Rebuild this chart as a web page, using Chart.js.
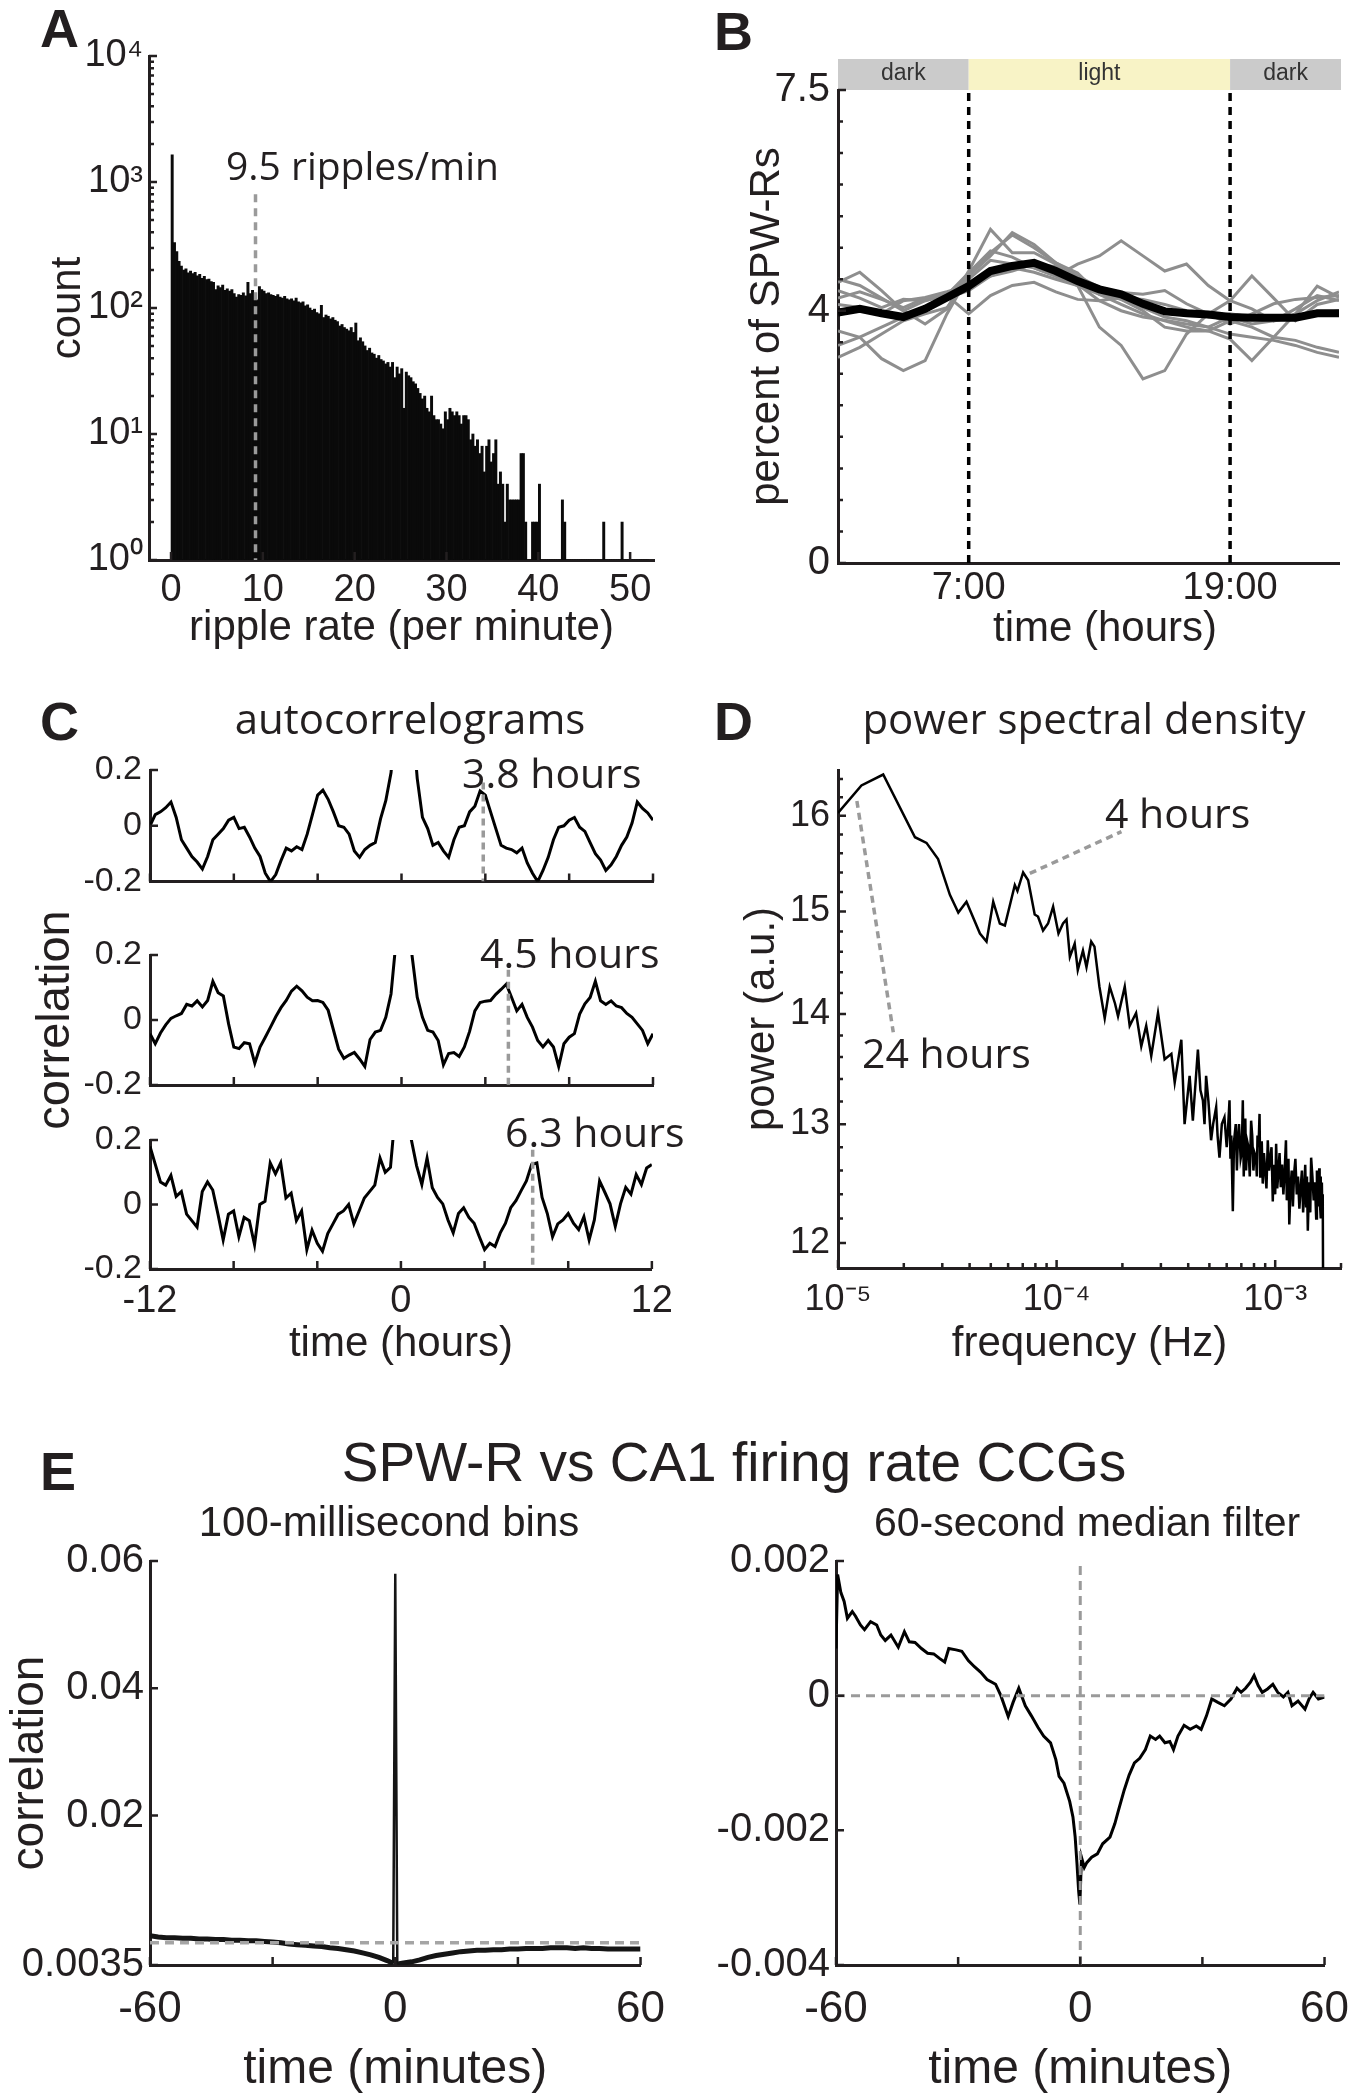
<!DOCTYPE html>
<html>
<head>
<meta charset="utf-8">
<script src="https://cdn.jsdelivr.net/npm/chart.js@4.4.1/dist/chart.umd.min.js"></script>
<style>
body { margin: 0; background: #fff; }
#fig { position: relative; width: 1367px; height: 2100px; overflow: hidden; background: #fff; }
#fig canvas { position: absolute; }
.t { position: absolute; white-space: nowrap; color: #231f20; }
</style>
</head>
<body>
<div id="fig">
<canvas id="chartA"></canvas>
<canvas id="chartB"></canvas>
<canvas id="chartC1"></canvas>
<canvas id="chartC2"></canvas>
<canvas id="chartC3"></canvas>
<canvas id="chartD"></canvas>
<canvas id="chartE1"></canvas>
<canvas id="chartE2"></canvas>
</div>
<script>
// ---- A: ripple-rate histogram (0.25 bins) ----
var histBinWidth = 0.25;
var histCounts = [
  1640, 330, 280, 235,  215, 200, 205, 190,  196, 188, 192, 180,  185, 172, 178, 168,
  170, 162, 160, 140,  150, 145, 152, 138,  142, 136, 140, 130,  122, 128, 126, 132,
  125, 160, 130, 138,  128, 116, 148, 140,  136, 130, 132, 128,  126, 124, 128, 122,
  120, 124, 118, 116,  118, 114, 120, 112,  110, 112, 104, 106,  100, 96, 98, 92,
  90, 105, 84, 88,  86, 82, 84, 80,  78, 72, 74, 70,  68, 66, 70, 64,
  76, 55, 58, 54,  50, 46, 48, 44,  43, 40, 42, 39,  38, 36, 37, 34,
  37, 28, 34, 30,  33, 16, 31, 29,  28, 26, 25, 23,  21, 19, 20, 16,
  15, 20, 14, 13,  13, 12, 11, 15,  13, 16, 15, 14,  15, 14, 12, 14,
  14, 13, 9, 10,  8, 9, 7, 8,  5, 8, 9, 6,  7, 9, 4, 5,
  4, 2, 4, 3,  3, 3, 3, 3,  7, 7, 2, 0,  0, 2, 2, 2,
  4, 0, 0, 0,  0, 0, 0, 0,  0, 0, 3, 2,  0, 0, 0, 0,
  0, 0, 0, 0,  0, 0, 0, 0,  0, 0, 0, 0,  2, 0, 0, 0,
  0, 0, 0, 0,  2, 0, 0, 0,  0, 0, 0, 0,  0, 0, 0, 0
];
var rateTicks = [0, 10, 20, 30, 40, 50];
var histTickValues = [1, 10, 100, 1000, 10000];
var histTickLabels = ['10\u2070', '10\u00b9', '10\u00b2', '10\u00b3', '10\u2074'];
var histMinorTicks = [2, 3, 4, 5, 6, 7, 8, 9, 20, 30, 40, 50, 60, 70, 80, 90,
  200, 300, 400, 500, 600, 700, 800, 900, 2000, 3000, 4000, 5000, 6000, 7000, 8000, 9000];
var medianRate = 9.2;
var medianMarkTop = 800;

// ---- B: percent of SPW-Rs per hour ----
var hours = [1, 2, 3, 4, 5, 6, 7, 8, 9, 10, 11, 12, 13, 14, 15, 16, 17, 18, 19, 20, 21, 22, 23, 24];
var spwrMean = [3.97, 4.03, 3.96, 3.90, 4.03, 4.21, 4.39, 4.63, 4.71, 4.76, 4.63, 4.47,
  4.34, 4.26, 4.11, 3.99, 3.96, 3.94, 3.90, 3.89, 3.89, 3.89, 3.96, 3.96];
var spwrAnimals = [
  [4.45, 4.61, 4.32, 4.00, 3.79, 4.03, 4.63, 5.29, 4.92, 4.92, 4.74, 4.50, 4.32, 4.18, 4.05, 3.90, 3.84, 3.74, 3.90, 3.79, 3.84, 4.03, 4.24, 4.16],
  [3.68, 3.58, 3.24, 3.05, 3.21, 3.95, 4.55, 4.87, 5.24, 5.05, 4.76, 4.55, 4.37, 4.29, 4.26, 4.32, 4.11, 3.95, 3.79, 3.95, 4.11, 4.18, 4.21, 4.24],
  [4.20, 4.30, 4.18, 4.05, 4.20, 4.25, 4.60, 4.95, 4.85, 4.68, 4.55, 4.74, 4.87, 5.11, 4.87, 4.63, 4.74, 4.40, 4.16, 4.55, 4.20, 3.84, 4.10, 4.18],
  [4.10, 4.05, 3.95, 4.16, 4.21, 4.30, 4.40, 4.55, 4.68, 4.61, 4.50, 4.40, 3.74, 3.45, 2.92, 3.05, 3.63, 3.95, 4.16, 4.03, 3.84, 3.90, 3.95, 4.00],
  [3.45, 3.58, 3.74, 3.90, 4.05, 4.20, 4.32, 4.55, 4.63, 4.74, 4.70, 4.42, 4.16, 4.00, 3.90, 3.85, 3.79, 3.74, 3.63, 3.58, 3.53, 3.45, 3.34, 3.26],
  [3.26, 3.42, 3.63, 3.84, 3.95, 4.05, 4.50, 4.80, 4.74, 4.68, 4.55, 4.40, 4.26, 4.10, 3.95, 3.84, 3.74, 3.68, 3.84, 3.74, 3.58, 3.53, 3.42, 3.34],
  [4.32, 4.20, 4.05, 4.18, 4.16, 4.26, 4.55, 4.92, 5.20, 5.00, 4.76, 4.60, 4.26, 4.18, 4.00, 3.74, 3.68, 3.68, 3.55, 3.21, 3.58, 3.95, 4.39, 4.21],
  [4.50, 4.40, 4.20, 4.00, 4.16, 4.24, 3.95, 4.24, 4.40, 4.45, 4.30, 4.18, 4.16, 4.21, 4.18, 4.10, 4.00, 3.90, 3.95, 3.90, 3.84, 3.95, 4.16, 4.30]
];
var hourTicks = [7, 19];
var hourLabels = ['7:00', '19:00'];
var percentTicks = [0, 4, 7.5];
var percentLabels = ['0', '4', '7.5'];
var percentMinor = [0.5, 1, 1.5, 2, 2.5, 3, 3.5, 4.5, 5, 5.5, 6, 6.5, 7];
var lightPhases = [
  { from: 1, to: 7, label: 'dark' },
  { from: 7, to: 19, label: 'light' },
  { from: 19, to: 24, label: 'dark' }
];

// ---- C: autocorrelograms, lag -12..12 h in 0.25 h steps ----
var acgStep = 0.25;
var acg38 = [
  0.00, 0.04, 0.05, 0.065, 0.085, 0.03, -0.05, -0.08, -0.11, -0.13, -0.155, -0.11,
  -0.05, -0.03, -0.01, 0.02, 0.03, -0.01, -0.005, -0.04, -0.08, -0.11, -0.17, -0.20,
  -0.175, -0.125, -0.08, -0.09, -0.075, -0.085, -0.03, 0.04, 0.11, 0.128, 0.095, 0.05,
  0.00, -0.005, -0.03, -0.09, -0.113, -0.085, -0.07, -0.06, 0.025, 0.09, 0.19, 0.40,
  1.0,
  0.55, 0.40, 0.17, 0.03, -0.01, -0.07, -0.06, -0.09, -0.113, -0.05, -0.005, 0.00,
  0.05, 0.07, 0.125, 0.11, 0.05, -0.01, -0.07, -0.08, -0.085, -0.097, -0.08, -0.133,
  -0.17, -0.20, -0.16, -0.113, -0.05, -0.005, 0.00, 0.02, 0.03, -0.005, -0.02, -0.06,
  -0.10, -0.123, -0.16, -0.14, -0.11, -0.07, -0.04, 0.01, 0.085, 0.062, 0.046, 0.02
];
var acg45 = [
  -0.042, -0.073, -0.04, -0.015, 0.005, 0.013, 0.02, 0.048, 0.043, 0.059, 0.04, 0.06,
  0.119, 0.084, 0.074, -0.012, -0.083, -0.088, -0.07, -0.073, -0.133, -0.083, -0.053, -0.022,
  0.01, 0.038, 0.06, 0.089, 0.104, 0.09, 0.07, 0.059, 0.06, 0.054, 0.03, -0.03,
  -0.09, -0.118, -0.108, -0.1, -0.12, -0.143, -0.06, -0.037, -0.032, 0.008, 0.08, 0.25,
  1.0,
  0.3, 0.2, 0.07, 0.008, -0.032, -0.037, -0.063, -0.138, -0.103, -0.1, -0.112, -0.083,
  -0.035, 0.028, 0.054, 0.058, 0.06, 0.079, 0.094, 0.11, 0.07, 0.028, 0.048, 0.008,
  -0.022, -0.063, -0.083, -0.063, -0.083, -0.143, -0.073, -0.053, -0.042, 0.018, 0.05, 0.069,
  0.119, 0.059, 0.048, 0.059, 0.043, 0.038, 0.02, 0.008, -0.012, -0.032, -0.073, -0.042
];
var acg63 = [
  0.18, 0.125, 0.07, 0.06, 0.09, 0.025, 0.04, -0.03, -0.05, -0.07, 0.04, 0.07,
  0.045, -0.03, -0.11, -0.03, -0.02, -0.1, -0.04, -0.05, -0.125, 0.0, 0.01, 0.129,
  0.095, 0.129, 0.02, 0.035, -0.05, -0.02, -0.14, -0.08, -0.12, -0.145, -0.09, -0.06,
  -0.03, -0.02, 0.0, -0.06, -0.02, 0.02, 0.04, 0.06, 0.144, 0.1, 0.115, 0.3,
  1.0,
  0.35, 0.2, 0.12, 0.062, 0.144, 0.052, 0.022, 0.002, -0.048, -0.088, -0.028, -0.01,
  -0.04, -0.058, -0.1, -0.14, -0.12, -0.13, -0.088, -0.058, -0.01, 0.012, 0.043, 0.073,
  0.124, 0.129, 0.022, -0.028, -0.1, -0.06, -0.048, -0.028, -0.058, -0.078, -0.038, -0.11,
  -0.048, 0.073, 0.038, 0.002, -0.068, 0.002, 0.053, 0.032, 0.093, 0.062, 0.113, 0.124
];
var acgPeaks = [3.9, 5.1, 6.3];
var acgPeakTops = [0.155, 0.155, 0.17];
var lagTicks = [-12, -8, -4, 0, 4, 8, 12];
var lagLabelTicks = [-12, 0, 12];
var corrTicks = [-0.2, 0, 0.2];
var corrLabels = ['-0.2', '0', '0.2'];

// ---- D: power spectral density (frequency in units of 1e-5 Hz) ----
var psdFreq = [
  1.0, 1.28, 1.61, 2.25, 2.54, 2.87, 3.25, 3.55, 3.87, 4.46,
  4.78, 5.13, 5.50, 5.80, 6.44, 6.62, 7.03, 7.41, 7.94, 8.22,
  8.67, 9.14, 9.64, 10.2, 10.7, 11.1, 11.5, 12.1, 12.5, 13.2,
  13.7, 14.4, 14.9, 15.7, 16.6, 17.5, 18.5, 19.1, 20.5, 21.6,
  23.1, 24.4, 25.7, 27.1, 29.1, 31.2, 33.5, 34.7, 37.2, 38.5,
  40.6, 42.0, 44.3, 45.5, 46.7, 47.5, 48.3, 49.5, 50.9, 52.0,
  53.7, 54.5, 55.6, 57.0, 58.6, 60.0, 60.8, 61.8, 62.4, 63.0,
  64.0, 64.8, 66.0, 66.8, 67.5, 68.3, 69.5, 70.3, 71.1, 71.8,
  72.5, 73.0, 73.6, 74.5, 75.5, 76.5, 77.6, 78.5, 79.5, 80.5,
  81.8, 82.4, 83.0, 83.9, 84.8, 85.4, 86.0, 86.8, 87.7, 88.8,
  90.0, 91.2, 92.5, 93.7, 95.0, 96.2, 97.5, 98.2, 99.0, 100,
  101, 102.2, 103.5, 104.7, 106, 107.5, 109, 110.5, 112, 113,
  114, 115, 116, 117.5, 119, 120.5, 122, 123.7, 125.5, 127.2,
  129, 130.7, 132.5, 134.2, 136, 137.2, 138.5, 139.7, 141, 142.2,
  143.5, 144.7, 146, 148, 150, 152, 154, 155.2, 156.5, 157.7,
  159, 159.7, 160.5, 161.2, 162, 162.7, 163.5, 164.2, 165, 165.5];
var psdPower = [
  16.03, 16.33, 16.45, 15.77, 15.71, 15.54, 15.17, 14.99, 15.10, 14.78,
  14.70, 15.10, 14.88, 14.86, 15.27, 15.21, 15.40, 15.32, 14.97, 14.95,
  14.81, 14.88, 15.05, 14.78, 14.88, 14.92, 14.55, 14.68, 14.42, 14.61,
  14.45, 14.70, 14.65, 14.26, 13.96, 14.26, 14.10, 13.98, 14.26, 13.89,
  14.01, 13.70, 13.89, 13.61, 14.01, 13.58, 13.63, 13.37, 13.76, 13.00,
  13.43, 13.03, 13.67, 13.30, 13.21, 13.00, 13.43, 13.20, 12.86, 13.00,
  13.15, 12.90, 12.71, 13.00, 13.06, 12.80, 12.95, 13.21, 12.70, 12.90,
  12.26, 12.85, 13.00, 12.60, 12.86, 13.00, 12.70, 12.75, 13.21, 12.55,
  12.90, 13.05, 12.60, 12.85, 12.80, 12.55, 13.03, 12.90, 12.60, 12.75,
  12.71, 12.55, 12.90, 12.80, 13.09, 12.55, 12.70, 12.85, 12.49, 12.75,
  12.60, 12.45, 12.86, 12.60, 12.70, 12.80, 12.34, 12.65, 12.50, 12.40,
  12.83, 12.45, 12.60, 12.75, 12.46, 12.65, 12.40, 12.60, 12.86, 12.35,
  12.50, 12.70, 12.15, 12.45, 12.60, 12.30, 12.57, 12.70, 12.40, 12.55,
  12.28, 12.45, 12.60, 12.25, 12.46, 12.65, 12.30, 12.55, 12.10, 12.35,
  12.50, 12.25, 12.71, 12.55, 12.35, 12.50, 12.20, 12.60, 12.45, 12.30,
  12.62, 12.40, 12.30, 12.55, 12.20, 12.35, 12.50, 12.25, 12.40, 11.80];
var psdLeader24h = [[1.22, 16.16], [1.79, 13.83]];
var psdLeader4h = [[7.54, 15.39], [19.8, 15.83]];
var freqTicks = [1e-5, 1e-4, 1e-3];
var freqLabels = ['10\u207b\u2075', '10\u207b\u2074', '10\u207b\u00b3'];
var freqMinor = [2e-5, 3e-5, 4e-5, 5e-5, 6e-5, 7e-5, 8e-5, 9e-5,
  2e-4, 3e-4, 4e-4, 5e-4, 6e-4, 7e-4, 8e-4, 9e-4, 2e-3];
var powerTicks = [12, 13, 14, 15, 16];
var powerMinor = [12.2, 12.4, 12.6, 12.8, 13.2, 13.4, 13.6, 13.8, 14.2, 14.4, 14.6, 14.8,
  15.2, 15.4, 15.6, 15.8, 16.2, 16.4];

// ---- E: SPW-R vs CA1 firing-rate CCGs ----
var ccgFastTime = [-60, -58, -56, -54, -52, -50, -48, -46, -44, -42,
  -40, -38, -36, -34, -32, -30, -28, -26, -24, -22,
  -20, -18, -16, -14, -12, -10, -8, -6, -4, -2,
  -1, -0.5, 0, 0.5, 1,
  2, 4, 6, 8, 10, 12, 14, 16, 18, 20,
  22, 24, 26, 28, 30, 32, 34, 36, 38, 40,
  42, 44, 46, 48, 50, 52, 54, 56, 58, 60];
var ccgFast = [0.0011, 0.0009, 0.0008, 0.0008, 0.0007, 0.0007, 0.0006, 0.0006, 0.0005, 0.0005,
  0.0004, 0.0004, 0.0003, 0.0003, 0.0002, 0.0001, 0.0, -0.0002, -0.0003, -0.0004,
  -0.0005, -0.0006, -0.0008, -0.0009, -0.0011, -0.0013, -0.0016, -0.0019, -0.0023, -0.0028,
  -0.0031, -0.0033, 0.058, -0.0034, -0.0033,
  -0.0032, -0.003, -0.0027, -0.0023, -0.002, -0.0018, -0.0016, -0.0014, -0.0013, -0.0012,
  -0.0012, -0.0011, -0.0011, -0.001, -0.001, -0.0009, -0.0009, -0.0009, -0.0008, -0.0008,
  -0.0008, -0.0009, -0.0008, -0.0009, -0.0009, -0.001, -0.001, -0.001, -0.001, -0.001];
var ccgSlowTime = [-60, -59.6, -58.8, -58, -57.2, -56, -55.2, -54, -53, -51.5,
  -50, -49, -47.9, -46.5, -44.7, -43.2, -42, -40.6, -39, -37.5,
  -36, -34.5, -33.3, -32.3, -30.5, -29.1, -27.5, -26, -24.5, -22.9,
  -20.8, -19.5, -17.7, -16.5, -15.1, -13.5, -12, -10.4, -9, -7.3,
  -6, -5.2, -4, -2.6, -1.8, -1.25, -0.8, -0.4, -0.1, 0.3,
  1.0, 1.6, 2.8, 4.2, 5.5, 7.3, 8.5, 9.4, 10.8, 12,
  13.3, 14.6, 16, 17.2, 18.5, 19.5, 20.8, 22, 22.9, 24,
  25.5, 27, 28.5, 29.7, 31, 32.3, 33.8, 35.4, 37, 38.5,
  39.5, 40.6, 41.8, 42.7, 43.7, 44.7, 46, 47.3, 48.5, 49.9,
  51, 52, 53.5, 55.2, 56.2, 57.2, 58.5, 60];
var ccgSlow = [0.0007, 0.0018, 0.00153, 0.0014, 0.00115, 0.00125, 0.00118, 0.00105, 0.00098, 0.0011,
  0.00105, 0.0009, 0.00082, 0.0009, 0.00072, 0.00095, 0.0008, 0.00079, 0.0007, 0.00063,
  0.00062, 0.00055, 0.0005, 0.0007, 0.00068, 0.00066, 0.00052, 0.00043, 0.00035, 0.00024,
  0.00017, 0.0, -0.00031, -0.0001, 0.00011, -0.00015, -0.0003, -0.00047, -0.0006, -0.0007,
  -0.00095, -0.0012, -0.0013, -0.00157, -0.0018, -0.0021, -0.0025, -0.0029, -0.0031, -0.0024,
  -0.00255, -0.00248, -0.0024, -0.00235, -0.0022, -0.0021, -0.0019, -0.0017, -0.0014, -0.00118,
  -0.001, -0.00093, -0.0008, -0.0006, -0.00065, -0.0006, -0.0007, -0.00068, -0.0008, -0.0006,
  -0.00044, -0.0005, -0.00045, -0.0005, -0.0003, -0.00005, -0.0001, -0.00015, -0.00005, 0.00011,
  0.00005, 0.00011, 0.0002, 0.0003, 0.00015, 0.00005, 0.0001, 0.00017, 0.00005, -0.00002,
  0.00005, -0.00015, -0.00008, -0.0002, -0.00005, 0.00005, -0.00005, -0.00002];
var minuteTicks = [-60, -30, 0, 30, 60];
var minuteLabelTicks = [-60, 0, 60];
var fastTicks = [-0.0035, 0.02, 0.04, 0.06];
var fastLabels = ['0.0035', '0.02', '0.04', '0.06'];
var slowTicks = [-0.004, -0.002, 0, 0.002];
var slowLabels = ['-0.004', '-0.002', '0', '0.002'];

var INK = '#231f20';
var MARK = '#9a9a9a';
var SANS = "'Liberation Sans', Arial, sans-serif";
var OPEN = "'Open Sans', sans-serif";

// tick marks drawn inside the axes, MATLAB style
var inwardTicks = {
  id: 'inwardTicks',
  afterDatasetsDraw: function (chart, args, o) {
    if (!o || !(o.x || o.y)) return;
    var ctx = chart.ctx, a = chart.chartArea, sx = chart.scales.x, sy = chart.scales.y;
    ctx.save();
    ctx.strokeStyle = INK;
    ctx.lineWidth = 2.5;
    ctx.beginPath();
    function xt(vals, len) {
      (vals || []).forEach(function (v) {
        var p = sx.getPixelForValue(v);
        ctx.moveTo(p, a.bottom); ctx.lineTo(p, a.bottom - len);
      });
    }
    function yt(vals, len) {
      (vals || []).forEach(function (v) {
        var p = sy.getPixelForValue(v);
        ctx.moveTo(a.left, p); ctx.lineTo(a.left + len, p);
      });
    }
    xt(o.x, 8); xt(o.xMinor, 5); yt(o.y, 8); yt(o.yMinor, 5);
    ctx.stroke();
    ctx.restore();
  }
};
Chart.register(inwardTicks);

var phaseBar = {
  id: 'phaseBar',
  beforeDraw: function (chart) {
    var ctx = chart.ctx, a = chart.chartArea, sx = chart.scales.x;
    ctx.save();
    lightPhases.forEach(function (p) {
      var x0 = sx.getPixelForValue(p.from), x1 = sx.getPixelForValue(p.to);
      if (p.to === 24) x1 += 2;
      ctx.fillStyle = p.label === 'light' ? '#f8f3c6' : '#cbcbcb';
      ctx.fillRect(x0, a.top - 31, x1 - x0, 31);
      ctx.fillStyle = '#333';
      ctx.font = "23px 'Liberation Sans Narrow', 'Liberation Sans', sans-serif";
      ctx.textAlign = 'center';
      ctx.textBaseline = 'middle';
      ctx.fillText(p.label, (x0 + x1) / 2, a.top - 16);
    });
    ctx.restore();
  }
};

function frame(id, box, area) {
  var c = document.getElementById(id);
  c.width = box.w; c.height = box.h;
  c.style.left = box.x + 'px'; c.style.top = box.y + 'px';
  c.style.width = box.w + 'px'; c.style.height = box.h + 'px';
  return {
    box: box,
    padding: { left: 0, top: area.t - box.y, right: box.x + box.w - area.r, bottom: 0 },
    yW: area.l - box.x,
    xH: box.y + box.h - area.b
  };
}

function axis(fit, dir, o) {
  var tp = { top: 0, bottom: 0 };
  if (o.title) {
    var half = o.titleSize / 2;
    if (dir === 'x') tp.bottom = fit.box.y + fit.box.h - o.titleAt - half;
    else tp.top = o.titleAt - fit.box.x - half;
  }
  return {
    type: o.type || 'linear', min: o.min, max: o.max, offset: false,
    grid: { display: false, drawTicks: false },
    border: { display: true, color: INK, width: 3 },
    ticks: {
      display: !!o.labels, color: INK, padding: o.pad || 8, autoSkip: false,
      maxRotation: 0, minRotation: 0,
      font: { family: SANS, size: o.size || 36 },
      callback: function (v, i) { return o.labels ? o.labels[i] : ''; }
    },
    afterBuildTicks: function (s) {
      s.ticks = (o.ticks || []).map(function (v) { return { value: v }; });
    },
    title: o.title ? {
      display: true, text: o.title, color: INK,
      font: { family: SANS, size: o.titleSize, lineHeight: 1 }, padding: tp
    } : { display: false },
    afterFit: function (s) {
      if (dir === 'x') s.height = fit.xH; else s.width = fit.yW;
    }
  };
}

function baseOptions(fit, scales, ticks) {
  return {
    responsive: false, animation: false, devicePixelRatio: 1,
    layout: { padding: fit.padding },
    plugins: { legend: { display: false }, tooltip: { enabled: false }, inwardTicks: ticks },
    scales: scales,
    elements: { point: { radius: 0 }, line: { tension: 0 } }
  };
}

function pts(xs, ys) {
  return ys.map(function (y, i) { return { x: xs[i], y: y }; });
}

// ---- A ----
var fA = frame('chartA', { x: 0, y: 0, w: 683, h: 660 }, { l: 149, t: 56, r: 654, b: 560 });
new Chart(document.getElementById('chartA'), {
  type: 'bar',
  data: {
    datasets: [{
      type: 'line', order: 0,
      data: [{ x: medianRate, y: medianMarkTop }, { x: medianRate, y: 1 }],
      borderColor: MARK, borderWidth: 3.5, borderDash: [8, 6]
    }, {
      order: 1,
      data: histCounts.map(function (c, i) { return { x: (i + 0.5) * histBinWidth, y: c }; }),
      backgroundColor: '#0a0a0a', borderWidth: 0, base: 1,
      barPercentage: 1, categoryPercentage: 1
    }]
  },
  options: baseOptions(fA, {
    x: axis(fA, 'x', { min: -2.4, max: 52.6, ticks: rateTicks, labels: rateTicks.map(String),
      size: 38, pad: 8, title: 'ripple rate (per minute)', titleSize: 42, titleAt: 628 }),
    y: axis(fA, 'y', { type: 'logarithmic', min: 1, max: 10000, ticks: histTickValues,
      labels: histTickLabels, size: 38, pad: 6, title: 'count', titleSize: 42, titleAt: 68 })
  }, { x: rateTicks, y: histTickValues, yMinor: histMinorTicks })
});

// ---- B ----
var fB = frame('chartB', { x: 683, y: 0, w: 684, h: 660 }, { l: 838, t: 90, r: 1339, b: 563 });
var bSets = [{
  order: 0, data: pts(hours, spwrMean), borderColor: '#000', borderWidth: 8
}];
hourTicks.forEach(function (h) {
  bSets.push({ order: 1, data: [{ x: h, y: 0 }, { x: h, y: 7.5 }],
    borderColor: '#000', borderWidth: 3.5, borderDash: [8, 6] });
});
spwrAnimals.forEach(function (s) {
  bSets.push({ order: 2, data: pts(hours, s), borderColor: '#8e8e8e', borderWidth: 3 });
});
new Chart(document.getElementById('chartB'), {
  type: 'line',
  data: { datasets: bSets },
  options: baseOptions(fB, {
    x: axis(fB, 'x', { min: 1, max: 24, ticks: hourTicks, labels: hourLabels, size: 38, pad: 3 }),
    y: axis(fB, 'y', { min: 0, max: 7.5, ticks: percentTicks, labels: percentLabels, size: 40, pad: 8,
      title: 'percent of SPW-Rs', titleSize: 42, titleAt: 767 })
  }, { y: percentTicks, yMinor: percentMinor }),
  plugins: [phaseBar]
});

// ---- C ----
var lags = acg38.map(function (v, i) { return -12 + i * acgStep; });
function acgChart(id, box, area, values, peak, peakTop, last, yTitle) {
  var f = frame(id, box, area);
  var xo = { min: -12, max: 12, ticks: lagLabelTicks, size: 38, pad: 10 };
  if (last) {
    xo.labels = ['-12', '0', '12'];
    xo.title = 'time (hours)'; xo.titleSize = 42; xo.titleAt = 1344;
  }
  var yo = { min: -0.2, max: 0.2, ticks: corrTicks, labels: corrLabels, size: 34, pad: 8 };
  if (yTitle) { yo.title = 'correlation'; yo.titleSize = 47; yo.titleAt = 56; }
  new Chart(document.getElementById(id), {
    type: 'line',
    data: { datasets: [{
      order: 0, data: [{ x: peak, y: peakTop }, { x: peak, y: -0.2 }],
      borderColor: MARK, borderWidth: 3.5, borderDash: [7, 5]
    }, {
      order: 1, data: pts(lags, values), borderColor: '#000', borderWidth: 3
    }] },
    options: baseOptions(f, { x: axis(f, 'x', xo), y: axis(f, 'y', yo) },
      { x: lagTicks, y: corrTicks })
  });
}
acgChart('chartC1', { x: 0, y: 735, w: 683, h: 175 }, { l: 150, t: 770, r: 653, b: 900 }, acg38, acgPeaks[0], acgPeakTops[0], false, false);
acgChart('chartC2', { x: 0, y: 900, w: 683, h: 260 }, { l: 150, t: 955, r: 653, b: 1085 }, acg45, acgPeaks[1], acgPeakTops[1], false, true);
acgChart('chartC3', { x: 0, y: 1105, w: 683, h: 265 }, { l: 150, t: 1140, r: 653, b: 1269 }, acg63, acgPeaks[2], acgPeakTops[2], true, false);

// ---- D ----
var fD = frame('chartD', { x: 683, y: 735, w: 684, h: 635 }, { l: 838, t: 770, r: 1341, b: 1268 });
function hz(list) { return list.map(function (p) { return { x: p[0] * 1e-5, y: p[1] }; }); }
new Chart(document.getElementById('chartD'), {
  type: 'line',
  data: { datasets: [{
    order: 0, data: hz(psdLeader24h), borderColor: MARK, borderWidth: 3.5, borderDash: [7, 5]
  }, {
    order: 0, data: hz(psdLeader4h), borderColor: MARK, borderWidth: 3.5, borderDash: [7, 5]
  }, {
    order: 1, data: psdFreq.map(function (f, i) { return { x: f * 1e-5, y: psdPower[i] }; }),
    borderColor: '#000', borderWidth: 2.5
  }] },
  options: baseOptions(fD, {
    x: axis(fD, 'x', { type: 'logarithmic', min: 1e-5, max: 2e-3, ticks: freqTicks, labels: freqLabels,
      size: 36, pad: 10, title: 'frequency (Hz)', titleSize: 42, titleAt: 1344 }),
    y: axis(fD, 'y', { type: 'logarithmic', min: 11.8, max: 16.5, ticks: powerTicks,
      labels: powerTicks.map(String), size: 36, pad: 8, title: 'power (a.u.)', titleSize: 42, titleAt: 762 })
  }, { x: freqTicks, xMinor: freqMinor, y: powerTicks, yMinor: powerMinor })
});

// ---- E ----
var fE1 = frame('chartE1', { x: 0, y: 1530, w: 683, h: 570 }, { l: 150, t: 1561, r: 651, b: 1965 });
new Chart(document.getElementById('chartE1'), {
  type: 'line',
  data: { datasets: [{
    order: 0, data: [{ x: -60, y: 0 }, { x: 60, y: 0 }],
    borderColor: '#a5a5a5', borderWidth: 3.5, borderDash: [9, 6]
  }, {
    order: 1, data: pts(ccgFastTime, ccgFast), borderColor: '#151515', borderWidth: 5,
    segment: {
      borderWidth: function (c) { return (c.p0.parsed.y > 0.01 || c.p1.parsed.y > 0.01) ? 2.5 : undefined; }
    }
  }] },
  options: baseOptions(fE1, {
    x: axis(fE1, 'x', { min: -60, max: 60, ticks: minuteLabelTicks, labels: ['-60', '0', '60'],
      size: 44, pad: 18, title: 'time (minutes)', titleSize: 48, titleAt: 2070 }),
    y: axis(fE1, 'y', { min: -0.0035, max: 0.06, ticks: fastTicks, labels: fastLabels,
      size: 40, pad: 6, title: 'correlation', titleSize: 46, titleAt: 30 })
  }, { x: minuteTicks, y: fastTicks })
});

var fE2 = frame('chartE2', { x: 683, y: 1530, w: 684, h: 570 }, { l: 836, t: 1561, r: 1340, b: 1965 });
new Chart(document.getElementById('chartE2'), {
  type: 'line',
  data: { datasets: [{
    order: 0, data: [{ x: -60, y: 0 }, { x: 60, y: 0 }],
    borderColor: MARK, borderWidth: 3, borderDash: [9, 6]
  }, {
    order: 0, data: [{ x: 0, y: -0.004 }, { x: 0, y: 0.002 }],
    borderColor: MARK, borderWidth: 3, borderDash: [9, 6]
  }, {
    order: 1, data: pts(ccgSlowTime, ccgSlow), borderColor: '#000', borderWidth: 3
  }] },
  options: baseOptions(fE2, {
    x: axis(fE2, 'x', { min: -60, max: 60, ticks: minuteLabelTicks, labels: ['-60', '0', '60'],
      size: 44, pad: 18, title: 'time (minutes)', titleSize: 48, titleAt: 2070 }),
    y: axis(fE2, 'y', { min: -0.004, max: 0.002, ticks: slowTicks, labels: slowLabels,
      size: 40, pad: 6 })
  }, { x: minuteTicks, y: slowTicks })
});

// ---- page text ----
var fig = document.getElementById('fig');
function addText(str, x, baseline, size, family, align, bold) {
  var d = document.createElement('div');
  d.className = 't';
  d.textContent = str;
  d.style.font = (bold ? 'bold ' : '') + size + 'px ' + family;
  d.style.lineHeight = '1';
  var k = family === OPEN ? 0.888 : 0.8465;
  d.style.top = (baseline - k * size) + 'px';
  d.style.left = x + 'px';
  if (align === 'center') d.style.transform = 'translateX(-50%)';
  fig.appendChild(d);
  return d;
}
addText('A', 40, 47, 54, SANS, 'left', true);
addText('B', 714, 50, 54, SANS, 'left', true);
addText('C', 40, 740, 54, SANS, 'left', true);
addText('D', 714, 740, 54, SANS, 'left', true);
addText('E', 40, 1490, 54, SANS, 'left', true);

addText('time (hours)', 1105, 642, 42, SANS, 'center');
addText('9.5 ripples/min', 226, 180, 39, OPEN, 'left');
addText('autocorrelograms', 410, 734, 42, OPEN, 'center');
addText('power spectral density', 1084, 734, 42, OPEN, 'center');
addText('3.8 hours', 462, 788, 41, OPEN, 'left');
addText('4.5 hours', 480, 968, 41, OPEN, 'left');
addText('6.3 hours', 505, 1147, 41, OPEN, 'left');
addText('4 hours', 1105, 828, 41, OPEN, 'left');
addText('24 hours', 862, 1068, 41, OPEN, 'left');
addText('SPW-R vs CA1 firing rate CCGs', 734, 1482, 55, SANS, 'center');
addText('100-millisecond bins', 389, 1537, 42, SANS, 'center');
addText('60-second median filter', 1087, 1537, 41, SANS, 'center');
</script>
</body>
</html>
